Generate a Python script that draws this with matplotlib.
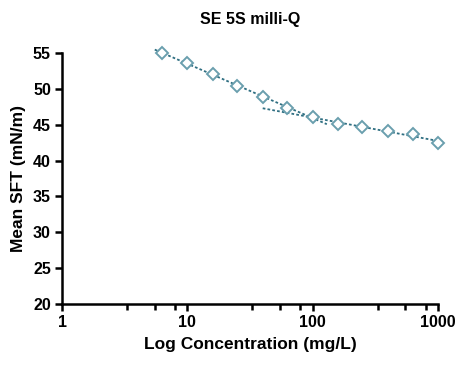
import numpy as np
import matplotlib
matplotlib.use("Agg")
from matplotlib import pyplot as plt
from matplotlib.ticker import FixedLocator, NullFormatter

plt.rcParams['font.family'] = ['Liberation Sans', 'DejaVu Sans']
plt.rcParams['font.weight'] = 'bold'

# concentration (mg/L) and mean surface tension (mN/m)
conc = [6.3, 10, 16, 25, 40, 63, 100, 160, 250, 400, 630, 1000]
sft = [55.0, 53.5, 52.0, 50.4, 48.8, 47.3, 46.1, 45.1, 44.6, 44.1, 43.7, 42.5]

major_ticks = [1, 10, 100, 1000]
major_labels = ["1", "10", "100", "1000"]
minor_ticks = [3.3, 5.5, 8, 33, 55, 80, 330, 550, 800]
y_ticks = [20, 25, 30, 35, 40, 45, 50, 55]

# two linear fits on log scale: low and high concentration ranges
low_idx = slice(0, 7)
high_idx = slice(6, 12)
low_range = [5.5, 130]
high_range = [40, 1100]

fig = plt.figure(figsize=(4.6, 3.7), dpi=100)
ax = fig.add_axes([0.1348, 0.1776, 0.817, 0.68])

line_col = "#2f6f82"
mark_col = "#6a9fae"

lx = np.log10(conc)
for idx, rng in [(low_idx, low_range), (high_idx, high_range)]:
    p = np.polyfit(lx[idx], np.array(sft)[idx], 1)
    xr = np.array(rng)
    ax.plot(xr, np.polyval(p, np.log10(xr)), color=line_col, lw=1.3,
            ls=(0, (1.5, 1.2)), zorder=2, clip_on=False)

ax.plot(conc, sft, ls="none", marker="D", ms=6.5, mfc="white", mec=mark_col,
        mew=1.4, zorder=3, clip_on=False)

ax.set_xscale("log")
ax.set_xlim(1, 1000)
ax.set_ylim(20, 55)
ax.xaxis.set_major_locator(FixedLocator(major_ticks))
ax.set_xticklabels(major_labels)
ax.xaxis.set_minor_locator(FixedLocator(minor_ticks))
ax.xaxis.set_minor_formatter(NullFormatter())
ax.set_yticks(y_ticks)

for s in ["top", "right"]:
    ax.spines[s].set_visible(False)
for s in ["left", "bottom"]:
    ax.spines[s].set_linewidth(1.8)
ax.tick_params(which="major", length=5, width=1.8, labelsize=11.5, pad=3)
ax.tick_params(which="minor", length=4, width=1.8)

ax.set_title("SE 5S milli-Q", fontsize=11.5, fontweight="bold", pad=21)
ax.set_xlabel("Log Concentration (mg/L)", fontsize=12.5, fontweight="bold", labelpad=5)
ax.set_ylabel("Mean SFT (mN/m)", fontsize=12.5, fontweight="bold", labelpad=5)

fig.savefig("out.png", dpi=100)
